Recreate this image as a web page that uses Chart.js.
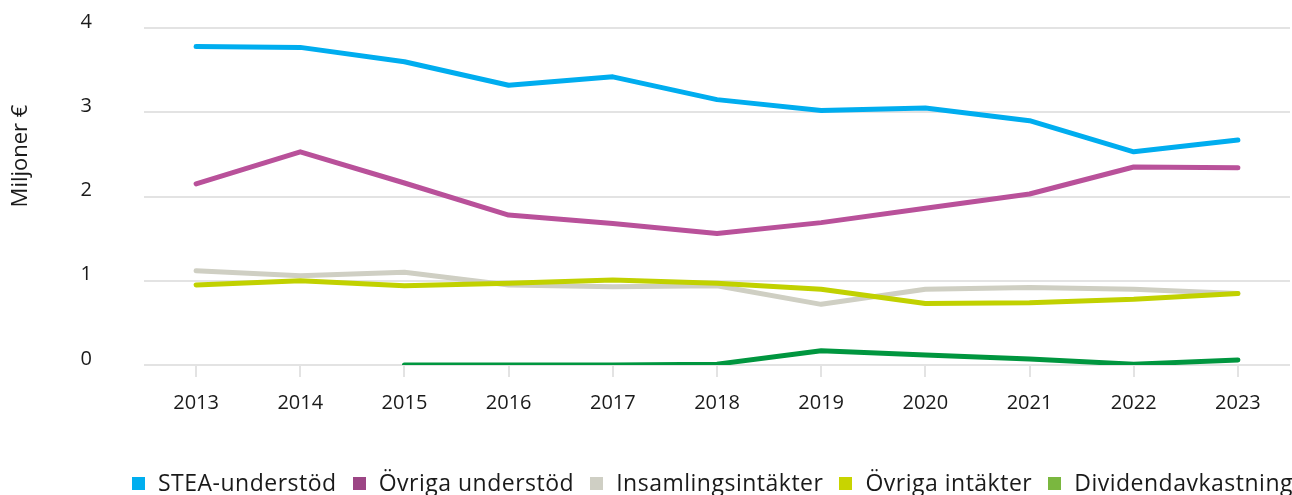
<!DOCTYPE html>
<html>
<head>
<meta charset="utf-8">
<script src="https://cdn.jsdelivr.net/npm/chart.js@4/dist/chart.umd.min.js"></script>
<style>
  html, body { margin: 0; padding: 0; background: #fff; overflow: hidden; }
  #wrap { position: relative; width: 1292px; height: 495px; }
  #legend { position: absolute; left: 132px; top: 469px; white-space: nowrap; width: 1160px; overflow: hidden;
            font-family: 'Open Sans', sans-serif; font-size: 23px; color: #1a1a1a; letter-spacing: 0.5px; line-height: 26px; }
  #legend .item { display: inline-block; margin-right: 16px; }
  #legend .box { display: inline-block; width: 13px; height: 13px; margin-right: 13px; vertical-align: 1px; }
</style>
</head>
<body>
<div id="wrap">
  <canvas id="c" width="1292" height="495"></canvas>
  <div id="legend"></div>
</div>
<script>
const years = ['2013','2014','2015','2016','2017','2018','2019','2020','2021','2022','2023'];
const steaUnderstod = [3.78, 3.77, 3.60, 3.32, 3.42, 3.15, 3.02, 3.05, 2.90, 2.53, 2.67];
const ovrigaUnderstod = [2.15, 2.53, 2.16, 1.78, 1.68, 1.56, 1.69, 1.86, 2.03, 2.35, 2.34];
const insamlingsintakter = [1.12, 1.06, 1.10, 0.95, 0.93, 0.94, 0.72, 0.90, 0.92, 0.90, 0.85];
const ovrigaIntakter = [0.95, 1.00, 0.94, 0.97, 1.01, 0.97, 0.90, 0.73, 0.74, 0.78, 0.85];
const dividendavkastning = [null, null, 0.00, 0.00, 0.00, 0.01, 0.17, 0.12, 0.07, 0.01, 0.06];
const seriesNames = ['STEA-understöd', 'Övriga understöd', 'Insamlingsintäkter', 'Övriga intäkter', 'Dividendavkastning'];
const yTicks = [0, 1, 2, 3, 4];
const yTitle = 'Miljoner €';

const FONT = "'Open Sans', sans-serif";

function ds(label, data, line, legend, order) {
  return {
    label, data, order,
    borderColor: line, backgroundColor: legend,
    borderWidth: 5, pointRadius: 0, pointHoverRadius: 0,
    tension: 0, borderCapStyle: 'round', borderJoinStyle: 'round',
    spanGaps: false, fill: false
  };
}

const yTitlePlugin = {
  id: 'yTitle',
  afterDraw(chart) {
    const ctx = chart.ctx;
    ctx.save();
    ctx.translate(21, chart.chartArea.top + 128);
    ctx.rotate(-Math.PI / 2);
    ctx.font = "22px " + FONT;
    ctx.fillStyle = '#1a1a1a';
    ctx.textAlign = 'center';
    ctx.textBaseline = 'middle';
    ctx.fillText(yTitle, 0, 0);
    ctx.restore();
  }
};

const chart = new Chart(document.getElementById('c'), {
  type: 'line',
  data: {
    labels: years,
    datasets: [
      ds(seriesNames[0], steaUnderstod, '#00adef', '#00aeef', 0),
      ds(seriesNames[1], ovrigaUnderstod, '#b9519a', '#9c4585', 1),
      ds(seriesNames[2], insamlingsintakter, '#cfcfc3', '#cfcfc4', 3),
      ds(seriesNames[3], ovrigaIntakter, '#c1d100', '#c8d400', 2),
      ds(seriesNames[4], dividendavkastning, '#00963f', '#7ab73f', 4)
    ]
  },
  options: {
    responsive: false,
    animation: false,
    devicePixelRatio: 1,
    layout: { padding: { top: 28, right: 2, left: 0, bottom: 0 } },
    plugins: { legend: { display: false }, tooltip: { enabled: false } },
    scales: {
      x: {
        offset: true,
        grid: { offset: false, drawOnChartArea: false, drawTicks: true, tickLength: 12, color: '#e3e3e3', lineWidth: 2 },
        border: { display: false },
        ticks: { font: { family: FONT, size: 20 }, color: '#1a1a1a', padding: 14, maxRotation: 0 },
        afterFit(scale) { scale.height = 130; scale.paddingLeft = 0; scale.paddingRight = 0; }
      },
      y: {
        min: 0, max: 4,
        afterBuildTicks(scale) { scale.ticks = yTicks.map(v => ({ value: v })); },
        grid: { drawTicks: false, color: '#e3e3e3', lineWidth: 2 },
        border: { display: false },
        ticks: { font: { family: FONT, size: 20 }, color: '#1a1a1a', padding: 52, labelOffset: -6 },
        afterFit(scale) { scale.width = 144; scale.paddingTop = 0; scale.paddingBottom = 0; }
      }
    }
  },
  plugins: [yTitlePlugin]
});

const legendEl = document.getElementById('legend');
chart.data.datasets.forEach(d => {
  const item = document.createElement('span');
  item.className = 'item';
  const box = document.createElement('span');
  box.className = 'box';
  box.style.background = d.backgroundColor;
  item.appendChild(box);
  item.appendChild(document.createTextNode(d.label));
  legendEl.appendChild(item);
});
</script>
</body>
</html>
